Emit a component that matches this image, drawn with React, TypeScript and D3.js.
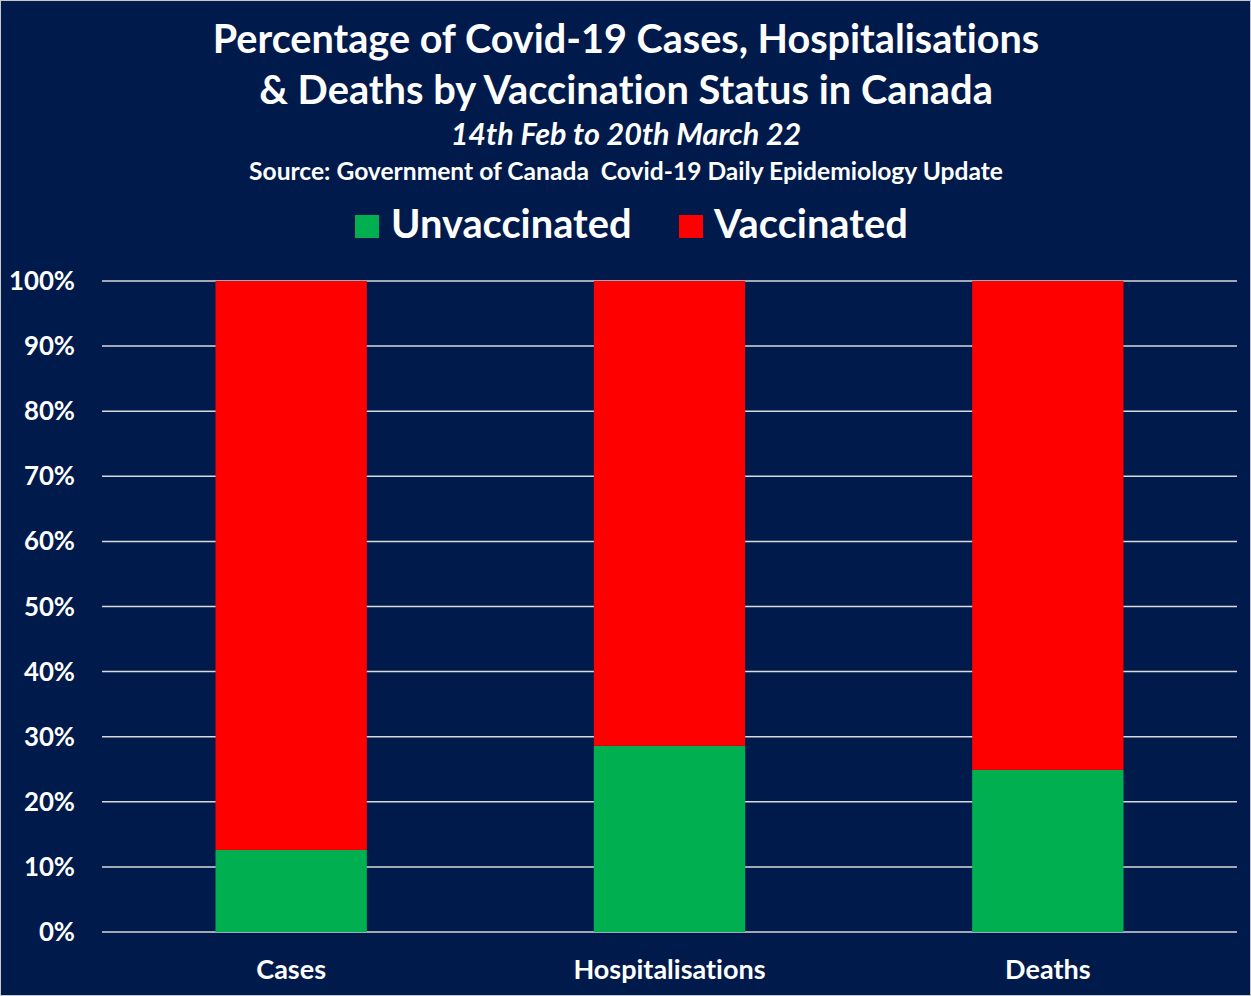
import React, { useEffect } from 'react'
import * as d3 from 'd3'

// Values (percent of total)
const categories = ['Cases', 'Hospitalisations', 'Deaths']
const unvaccinated = [12.6, 28.6, 24.9]
const vaccinated = [87.4, 71.4, 75.1]
const yTicks = [0, 10, 20, 30, 40, 50, 60, 70, 80, 90, 100]

const seriesKeys = ['Unvaccinated', 'Vaccinated']
const seriesColors = ['#00B050', '#FF0000']

const width = 1251
const height = 996
const margin = { top: 281, right: 14, bottom: 64, left: 102 }
const font = 'Lato, "Open Sans", sans-serif'
const bg = '#001A4B'

const App: React.FC = () => {
  useEffect(() => {
    document.body.style.margin = '0'
  }, [])

  const table = categories.map((c, i) => ({
    category: c,
    Unvaccinated: unvaccinated[i],
    Vaccinated: vaccinated[i],
  }))

  const stacked = d3.stack<any>().keys(seriesKeys)(table)

  const x = d3
    .scaleBand()
    .domain(categories)
    .range([margin.left, width - margin.right])
    .paddingInner(0.6)
    .paddingOuter(0.3)

  const y = d3
    .scaleLinear()
    .domain([0, 100])
    .range([height - margin.bottom, margin.top])

  const textStyle: React.CSSProperties = {
    fontVariantLigatures: 'none',
    fontFeatureSettings: '"liga" 0',
    whiteSpace: 'pre',
  }

  return (
    <svg width={width} height={height} style={{ display: 'block' }}>
      <rect x={0.5} y={0.5} width={width - 1} height={height - 1} fill={bg} stroke="#C8C8C8" />

      {/* titles */}
      <g fill="#fff" fontFamily={font} fontWeight={700} textAnchor="middle" style={textStyle}>
        <text x={626} y={53} fontSize={39.6}>Percentage of Covid-19 Cases, Hospitalisations</text>
        <text x={626} y={104} fontSize={39.8}>&amp; Deaths by Vaccination Status in Canada</text>
        <text x={626} y={145} fontSize={30.5} fontStyle="italic">14th Feb to 20th March 22</text>
        <text x={626} y={180} fontSize={24.6} xmlSpace="preserve" style={{ whiteSpace: 'pre' }}>
          {'Source: Government of Canada\u00A0 Covid-19 Daily Epidemiology Update'}
        </text>
      </g>

      {/* legend */}
      <g fontFamily={font} fontWeight={700} fill="#fff" fontSize={39.8} style={textStyle}>
        <rect x={355} y={215} width={24} height={23} fill={seriesColors[0]} />
        <text x={391} y={238}>{seriesKeys[0]}</text>
        <rect x={679} y={215} width={24} height={23} fill={seriesColors[1]} />
        <text x={714} y={238}>{seriesKeys[1]}</text>
      </g>

      {/* gridlines */}
      <g>
        {yTicks.map((t) => (
          <line
            key={t}
            x1={margin.left}
            x2={width - margin.right}
            y1={y(t)}
            y2={y(t)}
            stroke="#D9D9D9"
            strokeWidth={1.5}
          />
        ))}
      </g>

      {/* bars */}
      <g>
        {stacked.map((s, si) => (
          <g key={s.key} fill={seriesColors[si]}>
            {s.map((d, i) => (
              <rect
                key={i}
                x={x(categories[i])!}
                y={y(d[1])}
                width={x.bandwidth()}
                height={y(d[0]) - y(d[1])}
              />
            ))}
          </g>
        ))}
      </g>

      {/* y axis labels */}
      <g fontFamily={font} fontWeight={700} fill="#fff" fontSize={25.8} textAnchor="end" style={textStyle}>
        {yTicks.map((t) => (
          <text key={t} x={75} y={y(t) + 9}>
            {t}%
          </text>
        ))}
      </g>

      {/* x axis labels */}
      <g fontFamily={font} fontWeight={700} fill="#fff" fontSize={27} textAnchor="middle" style={textStyle}>
        {categories.map((c) => (
          <text key={c} x={x(c)! + x.bandwidth() / 2} y={979}>
            {c}
          </text>
        ))}
      </g>
    </svg>
  )
}

export default App
